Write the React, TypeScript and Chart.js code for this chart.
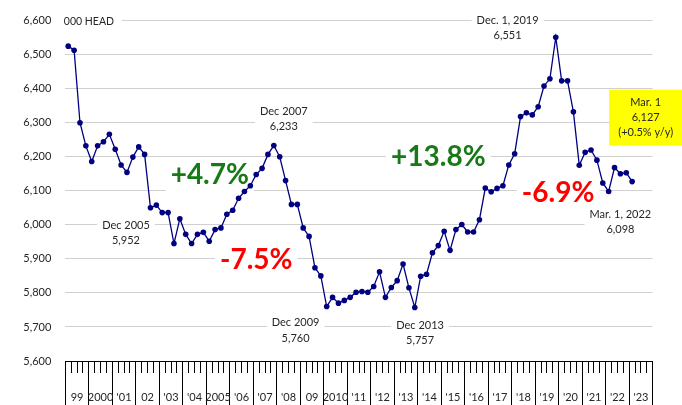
import React, { useEffect, useRef } from 'react';
import { Chart, registerables } from 'chart.js';

Chart.register(...registerables);

// Year group labels on the x axis (each group = 4 quarterly slots)
const yearLabels = ["99", "2000", "'01", "02", "'03", "'04", "2005", "'06", "'07", "'08", "09", "2010", "'11", "'12", "'13", "'14", "'15", "'16", "'17", "'18", "'19", "'20", "'21", "'22", "'23"];
const quarterNames = ["Mar", "Jun", "Sep", "Dec"];
const firstYear = 1999;
const categories = yearLabels.flatMap((_, i) => quarterNames.map((q) => `${q} ${firstYear + i}`));

// Inventory, 000 head
const inventory = [
  6525, 6513, 6300, 6232, 6186, 6232, 6244, 6266, 6222, 6176,
  6154, 6199, 6229, 6207, 6050, 6058, 6036, 6036, 5945, 6018,
  5972, 5945, 5972, 5978, 5952, 5986, 5991, 6031, 6043, 6078,
  6098, 6115, 6148, 6166, 6207, 6233, 6200, 6130, 6060, 6060,
  5991, 5966, 5874, 5850, 5760, 5787, 5770, 5778, 5787, 5802,
  5804, 5802, 5819, 5862, 5787, 5816, 5836, 5885, 5815, 5757,
  5849, 5855, 5918, 5939, 5981, 5925, 5986, 6001, 5979, 5979,
  6015, 6108, 6097, 6107, 6115, 6176, 6209, 6318, 6329, 6323,
  6347, 6408, 6429, 6551, 6423, 6423, 6332, 6175, 6213, 6220,
  6190, 6123, 6098, 6168, 6150, 6153, 6127,
];

const yMin = 5600;
const yMax = 6600;
const yStep = 100;

const GREEN = '#177a17';
const RED = '#ff0000';
const TEXT = '#262626';
const FONT = 'Lato, "Noto Sans", sans-serif';

type Note = {
  lines: string[];
  x: number; // category index
  y: number; // value
  size?: number;
  bold?: boolean;
  color?: string;
  bg?: string;
  padX?: number;
  boxW?: number;
  boxH?: number;
  lineH?: number;
};

const notes: Note[] = [
  { lines: ['000 HEAD'], x: 3.52, y: 6597, size: 10.5, padX: 8 },
  { lines: ['+4.7%'], x: 24.1, y: 6146, size: 28, bold: true, color: GREEN },
  { lines: ['Dec 2005', '5,952'], x: 9.83, y: 5976 },
  { lines: ['Dec 2007', '6,233'], x: 36.7, y: 6312 },
  { lines: ['-7.5%'], x: 32.0, y: 5897, size: 28, bold: true, color: RED },
  { lines: ['Dec 2009', '5,760'], x: 38.7, y: 5690 },
  { lines: ['Dec 2013', '5,757'], x: 59.9, y: 5682 },
  { lines: ['+13.8%'], x: 63.0, y: 6200, size: 28, bold: true, color: GREEN },
  { lines: ['Dec. 1, 2019', '6,551'], x: 74.8, y: 6579 },
  { lines: ['-6.9%'], x: 83.4, y: 6094, size: 28, bold: true, color: RED },
  { lines: ['Mar. 1, 2022', '6,098'], x: 94.0, y: 6009 },
  { lines: ['Mar. 1', '6,127', '(+0.5% y/y)'], x: 98.3, y: 6315, bg: '#ffff00', boxW: 73, boxH: 56 },
];

const notesPlugin = {
  id: 'notes',
  beforeDatasetsDraw(chart: any) {
    const { ctx, scales } = chart;
    const xs = scales.x;
    const ys = scales.y;
    ctx.save();
    for (const n of notes) {
      const size = n.size ?? 11;
      const lh = n.lineH ?? (n.lines.length > 1 ? 15.3 : size * 1.05);
      ctx.font = `${n.bold ? 'bold ' : ''}${size}px ${FONT}`;
      const cx = xs.getPixelForValue(n.x);
      const cy = ys.getPixelForValue(n.y);
      const tw = Math.max(...n.lines.map((l) => ctx.measureText(l).width));
      const padX = n.padX ?? 5;
      const w = n.boxW ?? tw + padX * 2;
      const h = n.boxH ?? lh * n.lines.length + 4;
      ctx.fillStyle = n.bg ?? '#ffffff';
      ctx.fillRect(cx - w / 2, cy - h / 2, w, h);
      ctx.fillStyle = n.color ?? TEXT;
      ctx.textAlign = 'center';
      ctx.textBaseline = 'middle';
      const top = cy - (lh * (n.lines.length - 1)) / 2;
      n.lines.forEach((l, i) => ctx.fillText(l, cx, top + i * lh));
    }
    ctx.restore();
  },
};

export default function App() {
  const ref = useRef<HTMLCanvasElement | null>(null);
  useEffect(() => {
    if (!ref.current) return;
    const chart = new Chart(ref.current, {
      type: 'line',
      data: {
        labels: categories,
        datasets: [
          {
            data: inventory,
            borderColor: '#000080',
            backgroundColor: '#000080',
            borderWidth: 1.3,
            pointRadius: 2.8,
            pointBackgroundColor: '#000080',
            pointBorderWidth: 0,
            tension: 0,
          },
        ],
      },
      options: {
        animation: false,
        responsive: false,
        devicePixelRatio: 1,
        layout: { padding: { top: 15, right: 29.3, bottom: 0, left: 0 } },
        plugins: { legend: { display: false }, tooltip: { enabled: false } },
        scales: {
          x: {
            type: 'category',
            offset: true,
            weight: 0,
            grid: { display: true, drawOnChartArea: false, drawTicks: true, tickLength: 12, offset: true, color: '#000000', lineWidth: 1 },
            border: { display: true, color: '#000000', width: 1 },
            ticks: { display: false },
            afterFit: (s: any) => { s.height = 12; },
          },
          x2: {
            type: 'category',
            labels: yearLabels,
            position: 'bottom',
            offset: true,
            weight: 1,
            grid: { display: true, drawOnChartArea: false, drawTicks: true, tickLength: 32, offset: true, color: '#000000', lineWidth: 1 },
            border: { display: false },
            ticks: { autoSkip: false, maxRotation: 0, padding: -14, color: TEXT, font: { family: FONT, size: 11 } },
            afterFit: (s: any) => { s.height = 32; },
          },
          y: {
            min: yMin,
            max: yMax,
            ticks: {
              stepSize: yStep,
              padding: 14,
              color: TEXT,
              font: { family: FONT, size: 11 },
              callback: (v: any) => Number(v).toLocaleString('en-US'),
            },
            grid: { color: '#d0d0d0', lineWidth: 1, drawTicks: false },
            border: { display: false },
            afterFit: (s: any) => { s.width = 65.3; },
          },
        },
      },
      plugins: [notesPlugin],
    });
    return () => chart.destroy();
  }, []);
  return (
    <div style={{ position: 'absolute', left: 0, top: 0, width: 682, height: 405, background: '#fff' }}>
      <canvas ref={ref} width={682} height={405} />
    </div>
  );
}
